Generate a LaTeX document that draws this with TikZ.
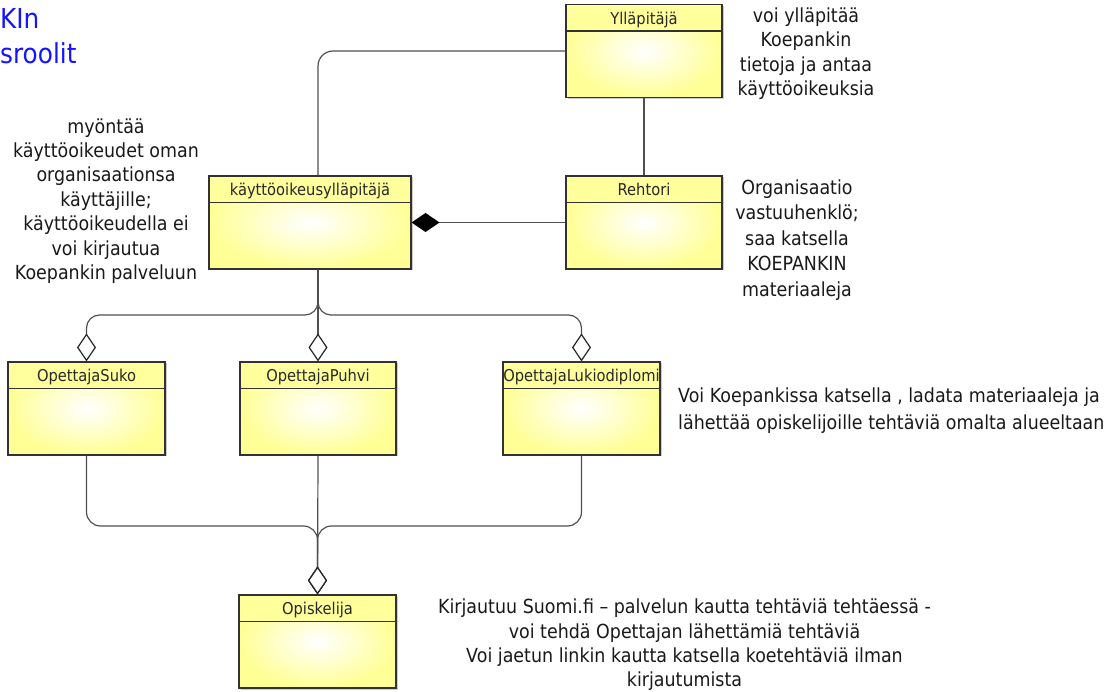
\documentclass[tikz,border=0pt]{standalone}
\usepackage{fontspec}
\setmainfont{DejaVu Sans}[FakeStretch=0.9]
\usetikzlibrary{arrows.meta,calc,shadows}
\definecolor{boxyellow}{RGB}{255,255,150}
\definecolor{headyellow}{RGB}{255,255,155}
\definecolor{boxline}{RGB}{50,50,50}
\definecolor{connline}{RGB}{80,80,80}
\definecolor{labeltext}{RGB}{40,40,40}
\definecolor{titleblue}{RGB}{20,20,255}
\begin{document}
\begin{tikzpicture}[x=1pt,y=-1pt,
  cls/.style={shade, inner color=white, outer color=boxyellow, draw=boxline,
    line width=1.1pt, inner sep=0pt, minimum height=93pt,
    drop shadow={shadow xshift=1.5pt, shadow yshift=-1.5pt, fill=black, opacity=0.2},
    path picture={
      \fill[headyellow] (path picture bounding box.north west) rectangle ([yshift=-26.5pt]path picture bounding box.north east);
      \draw[boxline, line width=1.1pt] ([yshift=-26.5pt]path picture bounding box.north west) -- ([yshift=-26.5pt]path picture bounding box.north east);}},
  hdr/.style={anchor=base, inner sep=0pt, text=labeltext, font=\fontsize{16.3}{16}\selectfont},
  note/.style={align=center, inner sep=0pt, text=black!90, font=\fontsize{19.4}{24.4}\selectfont},
  conn/.style={draw=connline, line width=1.2pt},
  odia/.style={-{Diamond[open, length=28pt, width=19pt, line width=1.2pt, fill=white, color=black!85]}},
  fdia/.style={-{Diamond[length=28pt, width=19pt, color=black]}},
  title/.style={anchor=base west, inner sep=0pt, text=titleblue, font=\fontsize{27.5}{27.5}\selectfont}
]
\useasboundingbox (0,0) rectangle (1117,692);

% classes
\node[cls, minimum width=156pt] (yl) at (644,51) {};
\node[cls, minimum width=202pt] (ko) at (310,222.5) {};
\node[cls, minimum width=156pt] (re) at (644,222.5) {};
\node[cls, minimum width=157pt] (su) at (86.5,408.5) {};
\node[cls, minimum width=156pt] (pu) at (318,408.5) {};
\node[cls, minimum width=157pt] (lu) at (581.5,408.5) {};
\node[cls, minimum width=157pt] (op) at (317.5,641.5) {};

\node[hdr] (ylt) at ([yshift=-20.5pt]yl.north) {Ylläpitäjä};
\node[hdr] (kot) at ([yshift=-20.5pt]ko.north) {käyttöoikeusylläpitäjä};
\node[hdr] (ret) at ([yshift=-20.5pt]re.north) {Rehtori};
\node[hdr] (sut) at ([yshift=-20.5pt]su.north) {OpettajaSuko};
\node[hdr] (put) at ([yshift=-20.5pt]pu.north) {OpettajaPuhvi};
\node[hdr] (lut) at ([yshift=-20.5pt]lu.north) {OpettajaLukiodiplomi};
\node[hdr] (opt) at ([yshift=-20.5pt]op.north) {Opiskelija};

% helper coordinates
\coordinate (kotop) at ($(ko.north)+(8,0)$);
\coordinate (kobot) at ($(ko.south)+(8,0)$);
\coordinate (jt) at (318,315);
\coordinate (jb) at (318,526);

% connectors
\draw[conn, rounded corners=15pt] (yl.west) -| (kotop);
\draw[conn] (yl.south) -- (re.north);
\draw[conn, fdia] (re.west) -- (ko.east);
\draw[conn, odia, rounded corners=13pt] (kobot) |- (su.north |- jt) -- (su.north);
\draw[conn, odia, rounded corners=13pt] (kobot) |- (lu.north |- jt) -- (lu.north);
\draw[conn, odia] (kobot) -- (pu.north);
\draw[conn, odia, rounded corners=14pt] (su.south) |- (op.north |- jb) -- (op.north);
\draw[conn, odia, rounded corners=14pt] (lu.south) |- (op.north |- jb) -- (op.north);
\draw[conn, odia] (pu.south) -- (op.north);

% title
\node[title] (t1) at (0,29) {KIn};
\node[title] (t2) at (0,64) {sroolit};

% notes
\node[note] (n1) at (106,201) {myöntää\\käyttöoikeudet oman\\organisaationsa\\käyttäjille;\\käyttöoikeudella ei\\voi kirjautua\\Koepankin palveluun};
\node[note] (n2) at (806,53.5) {voi ylläpitää\\Koepankin\\tietoja ja antaa\\käyttöoikeuksia};
\node[note, font=\fontsize{19.4}{25.5}\selectfont] (n3) at (797,240) {Organisaatio\\vastuuhenklö;\\saa katsella\\KOEPANKIN\\materiaaleja};
\node[note, align=left, anchor=west, font=\fontsize{19.4}{27}\selectfont] (n4) at (678,410.5) {Voi Koepankissa katsella , ladata materiaaleja ja\\lähettää opiskelijoille tehtäviä omalta alueeltaan};
\node[note] (n5) at (684.5,645) {Kirjautuu Suomi.fi – palvelun kautta tehtäviä tehtäessä -\\voi tehdä Opettajan lähettämiä tehtäviä\\Voi jaetun linkin kautta katsella koetehtäviä ilman\\kirjautumista};
\end{tikzpicture}
\end{document}
